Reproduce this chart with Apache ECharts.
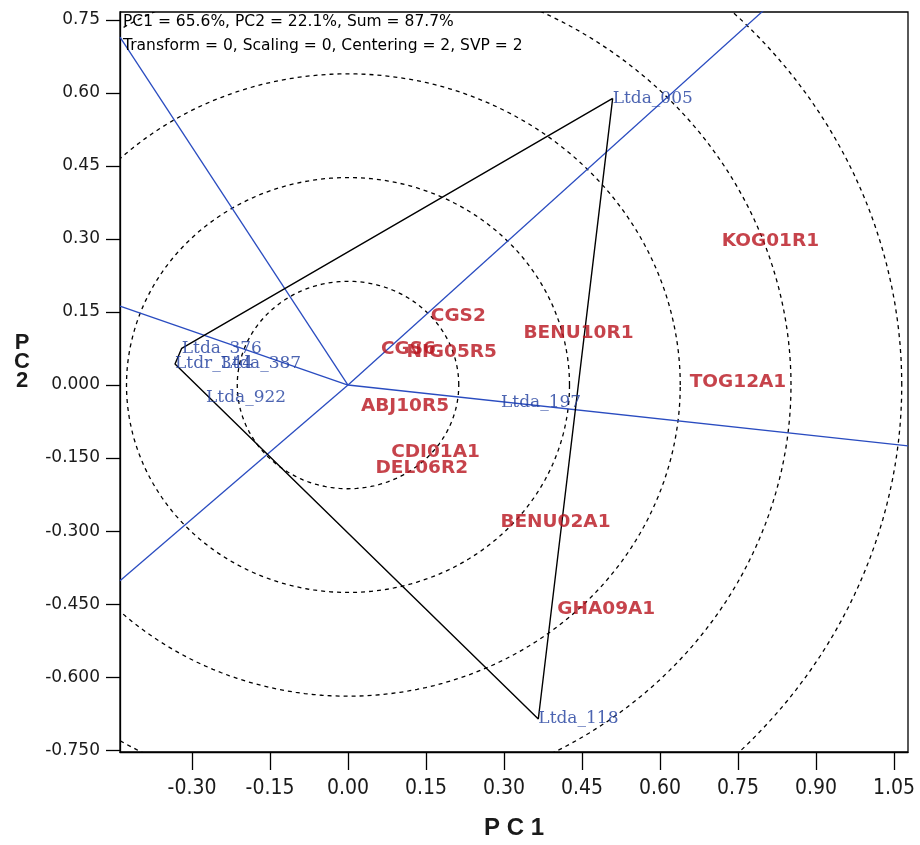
<!DOCTYPE html>
<html>
<head>
<meta charset="utf-8">
<script src="https://cdn.jsdelivr.net/npm/echarts@6/dist/echarts.min.js"></script>
<style>html,body{margin:0;padding:0;background:#fff}#c{width:920px;height:845px}</style>
</head>
<body>
<div id="c"></div>
<script>
// ---- data ----
const xTicks = [-0.30, -0.15, 0.00, 0.15, 0.30, 0.45, 0.60, 0.75, 0.90, 1.05];
const xTickLabels = ['-0.30', '-0.15', '0.00', '0.15', '0.30', '0.45', '0.60', '0.75', '0.90', '1.05'];
const yTicks = [0.75, 0.60, 0.45, 0.30, 0.15, 0.00, -0.15, -0.30, -0.45, -0.60, -0.75];
const yTickLabels = ['0.75', '0.60', '0.45', '0.30', '0.15', '0.000', '-0.150', '-0.300', '-0.450', '-0.600', '-0.750'];
const xRange = [-0.4385, 1.077];
const yRange = [-0.7536, 0.766];

const envNames = ['Ltda_005', 'Ltda_118', 'Ltda_376', 'Ltdr_344', 'Ltda_387', 'Ltda_922', 'Ltda_197'];
const envX = [0.509, 0.366, -0.3198, -0.3327, -0.2442, -0.2731, 0.2942];
const envY = [0.5887, -0.6858, 0.0754, 0.0431, 0.0446, -0.0260, -0.0363];

const genoNames = ['KOG01R1', 'TOG12A1', 'BENU10R1', 'CGS2', 'CGS6', 'NIG05R5', 'ABJ10R5', 'CDI01A1', 'DEL06R2', 'BENU02A1', 'GHA09A1'];
const genoX = [0.8125, 0.750, 0.4433, 0.2121, 0.1162, 0.1994, 0.1096, 0.1683, 0.1419, 0.3990, 0.4967];
const genoY = [0.2957, 0.0068, 0.1074, 0.1417, 0.0733, 0.0684, -0.0425, -0.1370, -0.1710, -0.2807, -0.4606];

const hullOrder = ['Ltda_005', 'Ltda_118', 'Ltdr_344', 'Ltda_376', 'Ltda_005'];

const rayEndX = [-0.4385, -0.4385, -0.4385, 0.799, 1.077];
const rayEndY = [0.7146, 0.1622, -0.4018, 0.769, -0.125];

const circleRadii = [0.213, 0.426, 0.639, 0.852, 1.065];

const headerLines = ['PC1 = 65.6%, PC2 = 22.1%, Sum = 87.7%', 'Transform = 0, Scaling = 0, Centering = 2, SVP = 2'];

// ---- chart ----
const BLUE_LINE = '#2a4cc0';
const BLUE_TEXT = '#1f3d9e';
const RED_TEXT = '#b8141e';

function lookup(ticks, labels, v) {
  for (let i = 0; i < ticks.length; i++) if (Math.abs(ticks[i] - v) < 1e-6) return labels[i];
  return '';
}

const series = [];

series.push({
  type: 'custom',
  coordinateSystem: 'cartesian2d',
  silent: true,
  clip: true,
  encode: { x: 0, y: 1 },
  data: circleRadii.map(r => [0, 0, r]),
  renderItem: function (params, api) {
    const cx = api.value(0), cy = api.value(1), r = api.value(2);
    const pts = [];
    const n = 240;
    for (let i = 0; i <= n; i++) {
      const a = i / n * Math.PI * 2;
      pts.push(api.coord([cx + r * Math.cos(a), cy + r * Math.sin(a)]));
    }
    return {
      type: 'polyline',
      shape: { points: pts },
      style: { stroke: '#000', fill: null, lineWidth: 1.3, lineDash: [4, 4] }
    };
  },
  z: 1
});

rayEndX.forEach((ex, i) => {
  series.push({
    type: 'line', silent: true, symbol: 'none', clip: true,
    data: [[0, 0], [ex, rayEndY[i]]],
    lineStyle: { color: BLUE_LINE, width: 1.3 },
    z: 2
  });
});

series.push({
  type: 'line', silent: true, symbol: 'none', clip: true,
  data: hullOrder.map(n => { const k = envNames.indexOf(n); return [envX[k], envY[k]]; }),
  lineStyle: { color: '#000', width: 1.4 },
  z: 3
});

series.push({
  type: 'scatter', silent: true,
  symbolSize: 0.1,
  itemStyle: { color: 'rgba(0,0,0,0)' },
  data: envNames.map((n, i) => ({ name: n, value: [envX[i], envY[i]] })),
  label: {
    show: true, position: 'right', distance: 0,
    formatter: p => p.name,
    fontFamily: "'DejaVu Serif', 'Liberation Serif', serif",
    fontSize: 17, color: BLUE_TEXT
  },
  z: 5
});

series.push({
  type: 'scatter', silent: true,
  symbolSize: 0.1,
  itemStyle: { color: 'rgba(0,0,0,0)' },
  data: genoNames.map((n, i) => ({ name: n, value: [genoX[i], genoY[i]] })),
  label: {
    show: true, position: 'inside',
    formatter: p => p.name,
    fontFamily: "'DejaVu Sans', sans-serif",
    fontWeight: 'bold',
    fontSize: 18.5, color: RED_TEXT
  },
  z: 6
});

const option = {
  animation: false,
  backgroundColor: '#fff',
  grid: {
    left: 120, right: 12, top: 12, bottom: 93,
    containLabel: false, outerBoundsMode: 'none',
    show: true, borderColor: '#000', borderWidth: 1.3, backgroundColor: 'transparent'
  },
  xAxis: {
    type: 'value', min: xRange[0], max: xRange[1],
    axisLine: { show: true, onZero: false, lineStyle: { color: '#000', width: 1.3 } },
    axisTick: { show: true, customValues: xTicks, length: 18, lineStyle: { color: '#000', width: 1.3 } },
    axisLabel: {
      customValues: xTicks, margin: 26,
      formatter: v => lookup(xTicks, xTickLabels, v),
      fontFamily: "'Liberation Sans Narrow', 'DejaVu Sans Condensed', sans-serif",
      fontSize: 21, color: '#1a1a1a'
    },
    splitLine: { show: false }
  },
  yAxis: {
    type: 'value', min: yRange[0], max: yRange[1],
    axisLine: { show: true, onZero: false, lineStyle: { color: '#000', width: 1.3 } },
    axisTick: { show: true, customValues: yTicks, length: 14, lineStyle: { color: '#000', width: 1.3 } },
    axisLabel: {
      customValues: yTicks, margin: 20,
      formatter: v => lookup(yTicks, yTickLabels, v),
      fontFamily: "'DejaVu Sans', sans-serif",
      fontSize: 17, color: '#1a1a1a'
    },
    splitLine: { show: false }
  },
  graphic: [
    { type: 'text', left: 123, top: 14, z: 10,
      style: { text: headerLines[0], font: "15.5px 'DejaVu Sans', sans-serif", fill: '#000' } },
    { type: 'text', left: 123, top: 38, z: 10,
      style: { text: headerLines[1], font: "15.5px 'DejaVu Sans', sans-serif", fill: '#000' } },
    { type: 'text', x: 514, y: 828, z: 10,
      style: { text: 'P C 1', font: "bold 24px 'Liberation Sans', Arial, sans-serif", fill: '#1a1a1a', align: 'center', verticalAlign: 'middle' } },
    { type: 'text', x: 22, y: 362, z: 10,
      style: { text: 'P\nC\n2', font: "bold 22px 'Liberation Sans', Arial, sans-serif", lineHeight: 19, fill: '#1a1a1a', align: 'center', verticalAlign: 'middle' } }
  ],
  series: series
};

const chart = echarts.init(document.getElementById('c'), null, { renderer: 'canvas' });
chart.setOption(option);
</script>
</body>
</html>
